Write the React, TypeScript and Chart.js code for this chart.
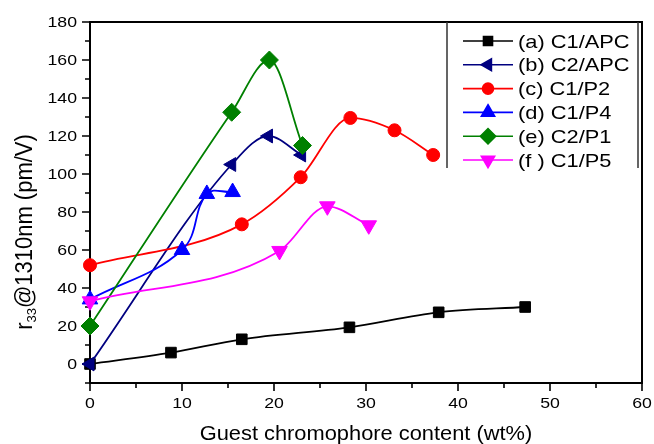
import React, { useEffect, useRef } from 'react';
import { Chart, registerables } from 'chart.js';
import { drawPoint } from 'chart.js/helpers';

Chart.register(...registerables);

// ---- data ----
const seriesNames = ['(a) C1/APC', '(b) C2/APC', '(c) C1/P2', '(d) C1/P4', '(e) C2/P1', '(f ) C1/P5'];
const aX = [0, 8.8, 16.5, 28.2, 37.9, 47.3];
const aY = [0, 6, 13, 19.3, 27.2, 30];
const bX = [0, 15.4, 19.4, 23.0];
const bY = [0, 105, 120, 110];
const cX = [0, 16.5, 22.9, 28.3, 33.1, 37.3];
const cY = [52, 73.5, 98.3, 129.5, 123, 110];
const dX = [0, 10.0, 12.7, 15.5];
const dY = [34, 60, 89.5, 90.5];
const eX = [0, 15.4, 19.5, 23.1];
const eY = [20, 132.5, 160, 115];
const fX = [0, 20.6, 25.8, 30.3];
const fY = [33, 59.5, 83, 73];
const seriesX = [aX, bX, cX, dX, eX, fX];
const seriesY = [aY, bY, cY, dY, eY, fY];

const xTickLabels = [0, 10, 20, 30, 40, 50, 60];
const xMinorTicks = [5, 15, 25, 35, 45, 55];
const yTickLabels = [0, 20, 40, 60, 80, 100, 120, 140, 160, 180];
const yMinorTicks = [-10, 10, 30, 50, 70, 90, 110, 130, 150, 170];
const xTitle = 'Guest chromophore content (wt%)';
const yTitleMain = 'r';
const yTitleSub = '33';
const yTitleRest = '@1310nm (pm/V)';

// ---- styles ----
const colors = ['#000000', '#000080', '#ff0000', '#0000ff', '#008000', '#ff00ff'];
const pStyles = ['rect', 'triangle', 'circle', 'triangle', 'rectRot', 'triangle'];
const pRot = [0, -90, 0, 0, 0, 180];
const pRad = [7.5, 8, 6.5, 9, 9, 9];
const interp = ['monotone', 'monotone', 'monotone', 'default', 'monotone', 'monotone'];
const FONT = '"Liberation Sans", Arial, sans-serif';

function sText(ctx: CanvasRenderingContext2D, text: string, x: number, y: number, size: number, sx: number, align: CanvasTextAlign) {
  ctx.save();
  ctx.translate(x, y);
  ctx.scale(sx, 1);
  ctx.font = `${size}px ${FONT}`;
  ctx.textAlign = align;
  ctx.textBaseline = 'alphabetic';
  ctx.fillStyle = '#000';
  ctx.fillText(text, 0, 0);
  ctx.restore();
}

const framePlugin = {
  id: 'frame',
  beforeDatasetsDraw(chart: any) {
    const ctx: CanvasRenderingContext2D = chart.ctx;
    const { left, right, top, bottom } = chart.chartArea;
    const xs = chart.scales.x;
    const ys = chart.scales.y;
    ctx.save();
    ctx.strokeStyle = '#000';
    ctx.lineWidth = 2;
    ctx.strokeRect(left, top, right - left, bottom - top);
    ctx.lineWidth = 1.6;
    ctx.beginPath();
    yTickLabels.forEach(v => { const y = ys.getPixelForValue(v); ctx.moveTo(left - 8, y); ctx.lineTo(left, y); });
    yMinorTicks.forEach(v => { const y = ys.getPixelForValue(v); ctx.moveTo(left - 5, y); ctx.lineTo(left, y); });
    xTickLabels.forEach(v => { const x = xs.getPixelForValue(v); ctx.moveTo(x, bottom); ctx.lineTo(x, bottom + 8); });
    xMinorTicks.forEach(v => { const x = xs.getPixelForValue(v); ctx.moveTo(x, bottom); ctx.lineTo(x, bottom + 5); });
    ctx.stroke();
    ctx.restore();
    yTickLabels.forEach(v => sText(ctx, String(v), left - 13, ys.getPixelForValue(v) + 5.4, 15, 1.18, 'right'));
    xTickLabels.forEach(v => sText(ctx, String(v), xs.getPixelForValue(v), bottom + 25, 15, 1.18, 'center'));
    sText(ctx, xTitle, (left + right) / 2, 440, 19.5, 1.12, 'center');

    // y title
    ctx.save();
    ctx.translate(32, 232);
    ctx.rotate(-Math.PI / 2);
    ctx.scale(1, 1.05);
    ctx.fillStyle = '#000';
    ctx.textBaseline = 'alphabetic';
    ctx.textAlign = 'left';
    const big = `22px ${FONT}`;
    const small = `13px ${FONT}`;
    ctx.font = big;
    const w1 = ctx.measureText(yTitleMain).width;
    const w3 = ctx.measureText(yTitleRest).width;
    ctx.font = small;
    const w2 = ctx.measureText(yTitleSub).width;
    const total = w1 + w2 + w3;
    let x0 = -total / 2;
    ctx.font = big;
    ctx.fillText(yTitleMain, x0, 0);
    x0 += w1;
    ctx.font = small;
    ctx.fillText(yTitleSub, x0, 4);
    x0 += w2;
    ctx.font = big;
    ctx.fillText(yTitleRest, x0, 0);
    ctx.restore();
  },
  afterDraw(chart: any) {
    const ctx: CanvasRenderingContext2D = chart.ctx;
    const { right, top } = chart.chartArea;
    const boxL = 447;
    const boxR = right - 4;
    const boxB = 168;
    ctx.save();
    ctx.strokeStyle = '#333';
    ctx.lineWidth = 1.5;
    ctx.beginPath();
    ctx.moveTo(boxL, top); ctx.lineTo(boxL, boxB);
    ctx.moveTo(boxR, top); ctx.lineTo(boxR, boxB);
    ctx.stroke();
    seriesNames.forEach((name, i) => {
      const y = 41 + i * 23.8;
      ctx.strokeStyle = colors[i];
      ctx.lineWidth = 1.6;
      ctx.beginPath();
      ctx.moveTo(463, y); ctx.lineTo(513, y);
      ctx.stroke();
      ctx.fillStyle = colors[i];
      drawPoint(ctx, { pointStyle: pStyles[i], rotation: pRot[i], radius: pRad[i] * 0.85, borderWidth: 1 } as any, 488, y);
      sText(ctx, name, 518, y + 6.6, 18.5, 1.18, 'left');
    });
    ctx.restore();
  },
};

export default function App() {
  const ref = useRef<HTMLCanvasElement>(null);
  useEffect(() => {
    const datasets = seriesNames.map((name, i) => ({
      label: name,
      data: seriesX[i].map((x, j) => ({ x, y: seriesY[i][j] })),
      borderColor: colors[i],
      backgroundColor: colors[i],
      pointBackgroundColor: colors[i],
      pointBorderColor: colors[i],
      pointStyle: pStyles[i],
      pointRotation: pRot[i],
      pointRadius: pRad[i],
      pointBorderWidth: 1,
      borderWidth: 1.8,
      cubicInterpolationMode: interp[i] as any,
      tension: 0.4,
      clip: false as any,
      order: 5 - i,
    }));
    const chart = new Chart(ref.current!, {
      type: 'line',
      data: { datasets },
      options: {
        animation: false,
        responsive: false,
        maintainAspectRatio: false,
        layout: { padding: { left: 0, top: 22, right: 12, bottom: 0 } },
        plugins: { legend: { display: false }, tooltip: { enabled: false } },
        events: [],
        scales: {
          x: {
            type: 'linear', min: 0, max: 60,
            ticks: { display: false, stepSize: 10 },
            grid: { display: false }, border: { display: false },
            afterFit: (s: any) => { s.height = 61; },
          },
          y: {
            type: 'linear', min: -10, max: 180,
            ticks: { display: false, stepSize: 20 },
            grid: { display: false }, border: { display: false },
            afterFit: (s: any) => { s.width = 90; },
          },
        },
      },
      plugins: [framePlugin],
    });
    return () => chart.destroy();
  }, []);
  return (
    <div style={{ position: 'fixed', left: 0, top: 0, width: 654, height: 444, background: '#fff' }}>
      <canvas ref={ref} width={654} height={444} style={{ display: 'block', width: 654, height: 444 }} />
    </div>
  );
}
